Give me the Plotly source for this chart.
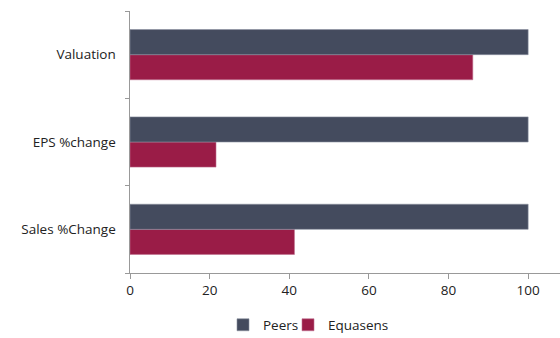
import plotly.graph_objects as go

categories = ["Sales %Change", "EPS %change", "Valuation"]
peers = [100, 100, 100]
equasens = [41.3, 21.6, 86.1]
x_ticks = [0, 20, 40, 60, 80, 100]

PEERS_C = "#444B5E"
EQ_C = "#9A1C47"
FONT = "Open Sans"

fig = go.Figure()
fig.add_trace(go.Bar(y=categories, x=equasens, orientation="h", name="Equasens",
                     marker=dict(color=EQ_C, line=dict(color="#C07090", width=0.6)),
                     legend="legend2"))
fig.add_trace(go.Bar(y=categories, x=peers, orientation="h", name="Peers",
                     marker=dict(color=PEERS_C, line=dict(color="#8A90A0", width=0.6)),
                     legend="legend"))

leg_common = dict(orientation="h", xanchor="left", xref="container",
                  y=13/338, yanchor="middle", yref="container",
                  bgcolor="rgba(0,0,0,0)",
                  font=dict(size=13.5), itemwidth=30)

fig.update_layout(
    width=560, height=338,
    margin=dict(l=130, r=0, t=11, b=65, autoexpand=False),
    barmode="group", bargap=0.425, bargroupgap=0,
    plot_bgcolor="white", paper_bgcolor="white",
    font=dict(family=FONT, size=13.5, color="#222"),
    showlegend=True,
    legend=dict(x=(237 - 14) / 560, **leg_common),
    legend2=dict(x=(302 - 14) / 560, **leg_common),
    xaxis=dict(range=[0, 108], tickvals=x_ticks, showgrid=False, zeroline=False,
               showline=True, linecolor="#999", linewidth=1, automargin=False,
               ticks="outside", ticklen=5, tickcolor="#999"),
    yaxis=dict(showgrid=False, showline=True, linecolor="#999", linewidth=1, automargin=False,
               ticks="outside", ticklen=4, tickcolor="#999", tickson="boundaries",
               ticksuffix="   "),
)
fig.write_html("out.html")
